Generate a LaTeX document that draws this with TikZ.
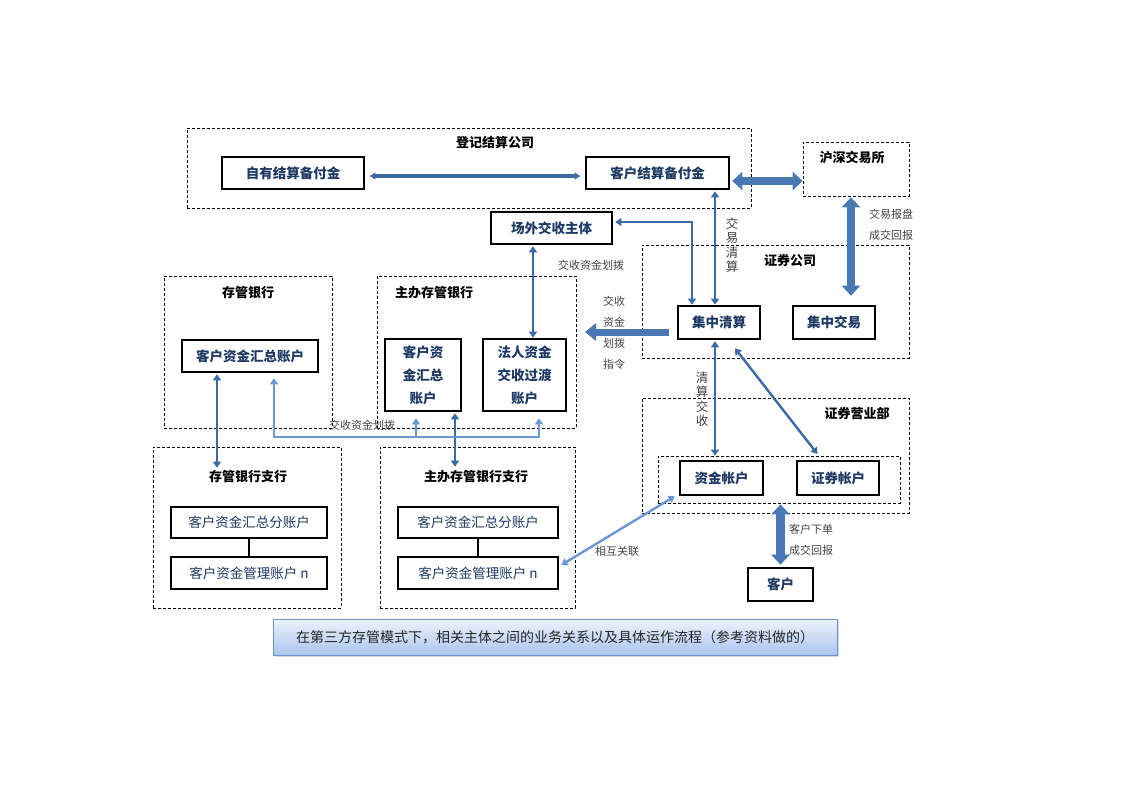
\documentclass[tikz,border=0pt]{standalone}
\usepackage{fontspec}
\newfontfamily\cjk{Noto Sans CJK SC}
\usetikzlibrary{arrows.meta,shadows,calc}
\definecolor{navy}{HTML}{1F3A64}
\definecolor{arrowblue}{HTML}{3E6AA3}
\definecolor{lightarrow}{HTML}{6B98D2}
\definecolor{blockblue}{HTML}{4A78B5}
\definecolor{labelgray}{HTML}{454545}
\definecolor{captop}{HTML}{EEF3FC}
\definecolor{capbot}{HTML}{A9C4EC}
\definecolor{capborder}{HTML}{6E94CF}
\begin{document}
\begin{tikzpicture}[x=1pt,y=-1pt,
  box/.style={draw=black,line width=2.6pt,text=navy,font=\cjk\bfseries\fontsize{13.5}{17}\selectfont,inner sep=0pt,align=center},
  boxthree/.style={box,font=\cjk\bfseries\fontsize{13.5}{23}\selectfont},
  dbox/.style={draw=black,line width=0.7pt,dash pattern=on 3pt off 2pt,inner sep=0pt},
  ttl/.style={font=\cjk\bfseries\fontsize{13}{15}\selectfont,text=black,inner sep=0pt},
  lbl/.style={font=\cjk\fontsize{11}{13}\selectfont,text=labelgray,inner sep=0pt,align=center},
  vlbl/.style={font=\cjk\fontsize{12.5}{14.5}\selectfont,text=labelgray,inner sep=0pt,align=center},
  barrow/.style={draw=arrowblue,line width=2.4pt,{Triangle[width=8pt,length=6pt]}-{Triangle[width=8pt,length=6pt]}},
  lline/.style={draw=lightarrow,line width=2.4pt},
  ltip/.style={-{Triangle[width=8pt,length=6pt]}},
  lboth/.style={{Triangle[width=8pt,length=6pt]}-{Triangle[width=8pt,length=6pt]}},
  blockarrow/.style={draw=blockblue,line width=8pt},
  bboth/.style={{Triangle[width=18pt,length=10pt]}-{Triangle[width=18pt,length=10pt]}},
  bone/.style={-{Triangle[width=17pt,length=11pt]}}
]
\fill[white] (0,0) rectangle (1122,793);
\useasboundingbox (0,0) rectangle (1122,793);

% dashed groups
\node[dbox,minimum width=564,minimum height=80] (djjs) at (469,168) {};
\node[ttl] (t1) at (495,143) {登记结算公司};
\node[dbox,minimum width=106,minimum height=54] (hsjys) at (856,169) {};
\node[ttl] (t2) at (852,158) {沪深交易所};
\node[dbox,minimum width=267,minimum height=113] (zqgs) at (775.5,301.5) {};
\node[ttl] (t3) at (790,261) {证券公司};
\node[dbox,minimum width=168,minimum height=152] (cgyh) at (248,352) {};
\node[ttl] (t4) at (248,293) {存管银行};
\node[dbox,minimum width=199,minimum height=152] (zbyh) at (476.5,352) {};
\node[ttl] (t5) at (434,293) {主办存管银行};
\node[dbox,minimum width=188,minimum height=161] (cgzh) at (247,527.5) {};
\node[ttl] (t6) at (248,477) {存管银行支行};
\node[dbox,minimum width=195,minimum height=161] (zbzh) at (477.5,527.5) {};
\node[ttl] (t7) at (476,477) {主办存管银行支行};
\node[dbox,minimum width=267,minimum height=115] (zqyyb) at (775.5,455.5) {};
\node[ttl] (t8) at (857,413) {证券营业部};
\node[dbox,minimum width=242,minimum height=47] (inner) at (779,479.5) {};

% solid boxes
\node[box,minimum width=142,minimum height=32] (zy) at (293,173) {自有结算备付金};
\node[box,minimum width=143,minimum height=32] (khjs) at (657.5,173) {客户结算备付金};
\node[box,minimum width=121,minimum height=32] (cwjs) at (551.5,228) {场外交收主体};
\node[box,minimum width=82,minimum height=33] (jzqs) at (719,322.5) {集中清算};
\node[box,minimum width=82,minimum height=33] (jzjy) at (834,322.5) {集中交易};
\node[box,minimum width=136,minimum height=32] (ckhz) at (250,356) {客户资金汇总账户};
\node[boxthree,minimum width=76,minimum height=72] (zbhz) at (423,375) {客户资\\金汇总\\账户};
\node[boxthree,minimum width=83,minimum height=72] (frzj) at (524.5,375) {法人资金\\交收过渡\\账户};
\node[box,minimum width=156,minimum height=31] (cfz) at (249,522.5) {\mdseries 客户资金汇总分账户};
\node[box,minimum width=156,minimum height=32] (cgl) at (249,573) {\mdseries 客户资金管理账户 n};
\node[box,minimum width=160,minimum height=31] (zfz) at (478,522.5) {\mdseries 客户资金汇总分账户};
\node[box,minimum width=160,minimum height=32] (zgl) at (478,573) {\mdseries 客户资金管理账户 n};
\node[box,minimum width=83,minimum height=34] (zjzh) at (721.5,478) {资金帐户};
\node[box,minimum width=82,minimum height=34] (zqzh) at (838,478) {证券帐户};
\node[box,minimum width=65,minimum height=33] (kh) at (780.5,584.5) {客户};

% caption
\node[draw=capborder,line width=0.8pt,top color=captop,bottom color=capbot,
  drop shadow={shadow xshift=2pt,shadow yshift=-2pt,opacity=0.3},
  minimum width=564,minimum height=36,inner sep=0pt,
  font=\cjk\fontsize{14}{16}\selectfont,text=black!85] (cap) at (555,637)
  {在第三方存管模式下，相关主体之间的业务关系以及具体运作流程（参考资料做的）};

% connectors
\draw[draw=arrowblue,line width=4pt,{Latex[width=8pt,length=6pt]}-{Latex[width=8pt,length=6pt]},shorten <=4pt,shorten >=4pt] ([yshift=-3pt]zy.east) -- ([yshift=-3pt]khjs.west);

\coordinate (a1) at ([yshift=-8pt]khjs.east);
\draw[blockarrow,bboth,shorten <=2pt] (a1) -- (a1 -| hsjys.west);

\coordinate (a2) at ([xshift=-5pt]hsjys.south);
\draw[blockarrow,bboth,shorten <=1pt,shorten >=9pt] (a2) -- (a2 |- jzjy.north);

\coordinate (a3) at ([xshift=57.5pt]khjs.south);
\draw[barrow,shorten <=1pt] (a3) -- (a3 |- jzqs.north);

\coordinate (a4) at ([xshift=-27pt]jzqs.north);
\coordinate (a5) at ([yshift=6pt]cwjs.east);
\draw[barrow,shorten <=2pt] (a5) -| (a4);

\coordinate (a6) at ([xshift=-18.5pt]cwjs.south);
\draw[barrow,shorten <=1pt] (a6) -- (a6 |- frzj.north);

\coordinate (a7) at ([xshift=-8pt,yshift=-9.5pt]jzqs.west);
\coordinate (instr) at (585,332);
\draw[blockarrow,line width=7pt,bone] (a7) -- (instr);

\coordinate (a8) at ([xshift=-4pt]jzqs.south);
\draw[barrow,shorten <=1pt] (a8) -- (a8 |- inner.north);

\draw[barrow,shorten <=1pt] ([xshift=-20pt,yshift=5pt]zqzh.north) -- ([xshift=16pt,yshift=-8pt]jzqs.south);

\coordinate (a9) at ([xshift=-33pt]ckhz.south);
\coordinate (a10) at ([yshift=-21pt]cgzh.north);
\draw[barrow,shorten <=1pt] (a9) -- (a9 |- a10);

\coordinate (a11) at ([xshift=32pt]zbhz.south);
\coordinate (a12) at ([yshift=-20pt]zbzh.north);
\draw[barrow,shorten <=1pt] (a11) -- (a11 |- a12);

\coordinate (busL) at (274,437);
\coordinate (busM) at (416,437);
\coordinate (busR) at (539,437);
\draw[lline,line cap=round] (busL) -- (busR);
\draw[lline,ltip,shorten >=5pt] (busL) -- (busL |- ckhz.south);
\draw[lline,ltip,shorten >=6pt] (busM) -- (busM |- zbhz.south);
\draw[lline,ltip,shorten >=6pt] (busR) -- (busR |- frzj.south);

\draw[lline,lboth] ([xshift=-4pt]zjzh.south west) -- ([xshift=2pt,yshift=8pt]zgl.east);

\draw[blockarrow,line width=9pt,bboth,shorten <=1pt,shorten >=2pt] (inner.south -| kh.north) -- (kh.north);

\draw[line width=2pt] (cfz.south) -- (cgl.north);
\draw[line width=2pt] (zfz.south) -- (zgl.north);

% labels
\node[vlbl] (l1) at (732,245) {交\\易\\清\\算};
\node[lbl] (l2) at (591,265) {交收资金划拨};
\node[lbl,font=\cjk\fontsize{11}{21}\selectfont] (l3) at (614,332.5) {交收\\资金\\划拨\\指令};
\node[lbl] (l4) at (891,214) {交易报盘};
\node[lbl] (l5) at (891,235) {成交回报};
\node[lbl] (l6) at (362,425) {交收资金划拨};
\node[vlbl] (l7) at (702,399) {清\\算\\交\\收};
\node[lbl] (l8) at (617,551) {相互关联};
\node[lbl] (l9) at (811,529) {客户下单};
\node[lbl] (l10) at (811,550) {成交回报};
\end{tikzpicture}
\end{document}
